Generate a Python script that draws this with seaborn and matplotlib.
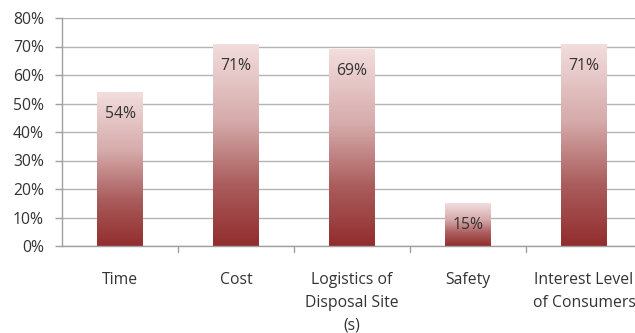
import numpy as np
import pandas as pd
import matplotlib
matplotlib.use("Agg")
import matplotlib.pyplot as plt
from matplotlib.colors import LinearSegmentedColormap
import seaborn as sns

categories = ["Time", "Cost", "Logistics of\nDisposal Site\n(s)", "Safety",
              "Interest Level\nof Consumers"]
values = [54, 71, 69, 15, 71]
value_labels = ["54%", "71%", "69%", "15%", "71%"]
y_ticks = [0, 10, 20, 30, 40, 50, 60, 70, 80]

sns.set_theme(style="white")
plt.rcParams["font.family"] = ["Open Sans", "DejaVu Sans"]

FS = 11.3
TXT = "#333333"

fig = plt.figure(figsize=(6.35, 3.33), dpi=100)
ax = fig.add_axes([62 / 635, 1 - 246 / 333, 580 / 635, 228 / 333])

df = pd.DataFrame({"category": categories, "value": values})
sns.barplot(data=df, x="category", y="value", ax=ax, width=0.39,
            color="#c0504d", saturation=1, zorder=2)

# vertical gradient fill: dark red at the base, pale pink at the top
cmap = LinearSegmentedColormap.from_list(
    "bar", [(0.0, "#922d2d"), (0.3, "#aa5c5c"), (0.62, "#d6abab"),
            (1.0, "#f3dddd")])
grad = np.linspace(0, 1, 256).reshape(-1, 1)
for patch in ax.patches:
    x0, y0 = patch.get_x(), patch.get_y()
    w, h = patch.get_width(), patch.get_height()
    patch.set_facecolor("none")
    patch.set_edgecolor("none")
    im = ax.imshow(grad, cmap=cmap, aspect="auto", origin="lower",
                   extent=[x0, x0 + w, y0, y0 + h], zorder=2,
                   interpolation="bilinear")
    im.set_clip_path(patch)
ax.set_xlim(-0.5, len(categories) - 0.5)
ax.set_ylim(0, 80)

for i, (v, lab) in enumerate(zip(values, value_labels)):
    ax.text(i, v - 7.7, lab, ha="center", va="center", fontsize=FS,
            color=TXT, zorder=3)

ax.set_yticks(y_ticks)
ax.set_yticklabels([f"{t}%" for t in y_ticks], fontsize=FS, color=TXT)
ax.yaxis.grid(True, color="#b4b4b4", linewidth=1.0, zorder=0)
ax.set_axisbelow(True)

ax.set_xticks(range(len(categories)))
ax.set_xticklabels(categories, fontsize=FS, color=TXT, linespacing=1.55)
ax.tick_params(axis="x", length=0, pad=19)
ax.tick_params(axis="y", length=5, width=1, color="#a0a0a0", left=True,
               pad=8)
for b in np.arange(0.5, len(categories) - 0.5, 1.0):
    ax.plot([b, b], [0, -2.0], color="#a0a0a0", lw=1, clip_on=False, zorder=1)

for s in ["top", "right"]:
    ax.spines[s].set_visible(False)
ax.spines["left"].set_color("#a0a0a0")
ax.spines["bottom"].set_color("#a0a0a0")
ax.spines["left"].set_linewidth(1)
ax.spines["bottom"].set_linewidth(1)

ax.set_xlabel("")
ax.set_ylabel("")

fig.savefig("out.png", dpi=100)
